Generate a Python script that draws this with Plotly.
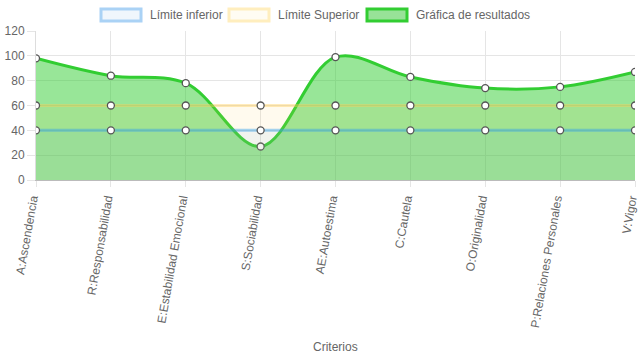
import plotly.graph_objects as go

categories = ["A:Ascendencia", "R:Responsabilidad", "E:Estabilidad Emocional", "S:Sociabilidad",
              "AE:Autoestima", "C:Cautela", "O:Originalidad", "P:Relaciones Personales", "V:Vigor"]
limite_inferior = [40] * 9
limite_superior = [60] * 9
resultados = [98, 84, 78, 27, 99, 83, 74, 75, 87]
y_ticks = [0, 20, 40, 60, 80, 100, 120]

W, H = 639, 360
L, R, T, B = 36, 4, 31, 180
pw, ph = W - L - R, H - T - B

font = dict(family="Liberation Sans, Arial, sans-serif", size=12, color="#666")
marker = dict(size=7, color="white", line=dict(color="#555", width=1.3))

fig = go.Figure()
fig.add_trace(go.Scatter(x=categories, y=resultados, mode="lines+markers", fill="tozeroy",
                         line=dict(color="rgb(50,205,50)", width=3, shape="spline", smoothing=1),
                         fillcolor="rgba(50,205,50,0.5)", marker=marker, showlegend=False,
                         name="Gráfica de resultados"))
fig.add_trace(go.Scatter(x=categories, y=limite_superior, mode="lines+markers", fill="tozeroy",
                         line=dict(color="rgba(255,205,86,0.4)", width=3),
                         fillcolor="rgba(255,205,86,0.1)", marker=marker, showlegend=False,
                         name="Límite Superior"))
fig.add_trace(go.Scatter(x=categories, y=limite_inferior, mode="lines+markers", fill="tozeroy",
                         line=dict(color="rgba(54,162,235,0.45)", width=3),
                         fillcolor="rgba(54,162,235,0.07)", marker=marker, showlegend=False,
                         name="Límite inferior"))

# manual legend (pixel positions converted to paper coordinates)
legend_items = [("Límite inferior", "rgb(170,210,245)", "rgb(240,246,252)", 101),
                ("Límite Superior", "rgb(255,238,190)", "rgb(255,252,243)", 229),
                ("Gráfica de resultados", "rgb(50,205,50)", "rgb(152,226,152)", 367)]
shapes = []
annotations = []
for n, lc, fc, px in legend_items:
    shapes.append(dict(type="rect", xref="paper", yref="paper",
                       x0=(px - L) / pw, x1=(px + 40 - L) / pw,
                       y0=(T + ph - 21) / ph, y1=(T + ph - 9) / ph,
                       line=dict(color=lc, width=3), fillcolor=fc))
    annotations.append(dict(text=n, xref="paper", yref="paper", x=(px + 47 - L) / pw,
                            y=(T + ph - 15) / ph, xanchor="left", yanchor="middle",
                            showarrow=False, font=dict(size=12, color="#666")))
annotations.append(dict(text="Criterios", xref="paper", yref="paper", x=0.5,
                        y=(T + ph - 347) / ph, xanchor="center", yanchor="middle",
                        showarrow=False, font=dict(size=12, color="#666")))

fig.update_layout(
    width=W, height=H, margin=dict(l=L, r=R, t=T, b=B),
    paper_bgcolor="white", plot_bgcolor="white", font=font, showlegend=False,
    shapes=shapes, annotations=annotations, hovermode=False,
    xaxis=dict(range=[0, 8], showgrid=True, gridcolor="#e5e5e5", tickangle=-80,
               ticks="outside", ticklen=6, tickcolor="#e5e5e5", showline=True, linecolor="#bbb",
               automargin=False, ticklabelshift=-4, tickfont=font),
    yaxis=dict(range=[0, 120], tickvals=y_ticks, showgrid=True, gridcolor="#e5e5e5",
               ticks="outside", ticklen=8, tickcolor="#e5e5e5", zeroline=False,
               showline=True, linecolor="#ddd", automargin=False, tickfont=font),
)
fig.write_html("out.html", config={"displayModeBar": False},
               post_script="document.body.style.margin='0';document.body.style.overflow='hidden';")
